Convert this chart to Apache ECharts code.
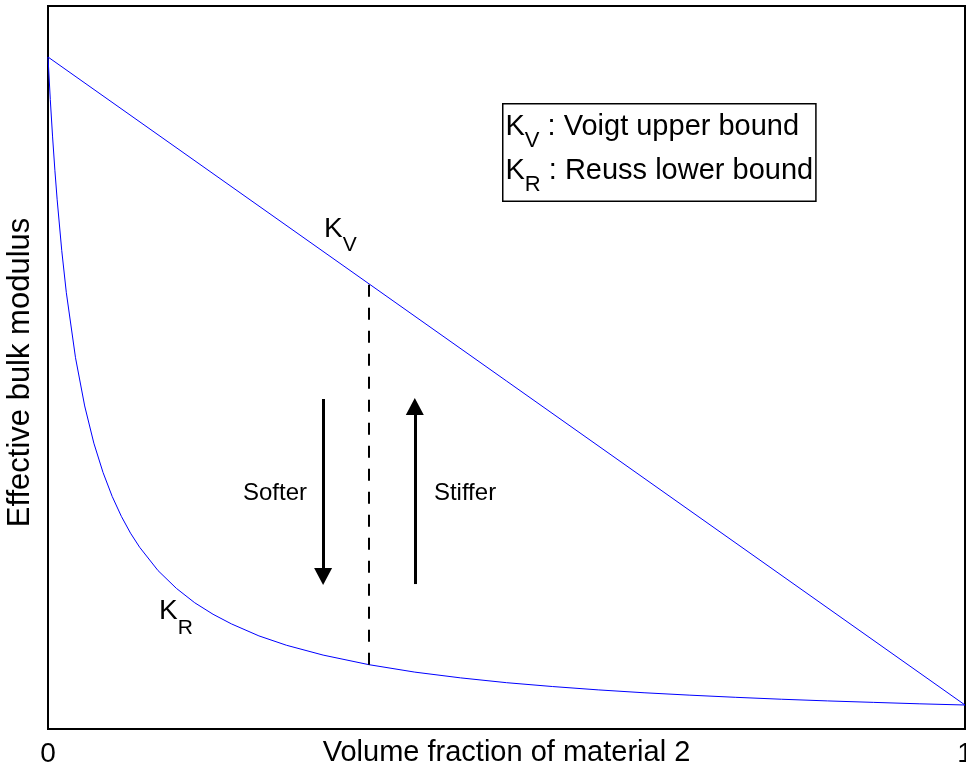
<!DOCTYPE html>
<html><head><meta charset="utf-8">
<script src="https://cdn.jsdelivr.net/npm/echarts@6/dist/echarts.min.js"></script>
<style>html,body{margin:0;padding:0;background:#fff}#c{width:966px;height:764px}</style>
</head><body><div id="c"></div>
<script>
// Volume fraction of material 2 (x) and effective bulk modulus (y, arbitrary units)
const fracReuss = [0, 0.0025, 0.005, 0.0075, 0.01, 0.015, 0.02, 0.03, 0.04, 0.05, 0.06, 0.07, 0.08, 0.09, 0.10, 0.12, 0.14, 0.16, 0.18, 0.20, 0.23, 0.26, 0.30, 0.35, 0.40, 0.45, 0.50, 0.55, 0.60, 0.65, 0.70, 0.75, 0.80, 0.85, 0.90, 0.95, 1.0];
const kReuss = [28, 26.23, 24.67, 23.28, 22.05, 19.93, 18.18, 15.47, 13.46, 11.91, 10.69, 9.69, 8.86, 8.16, 7.57, 6.60, 5.86, 5.26, 4.78, 4.38, 3.88, 3.49, 3.08, 2.68, 2.37, 2.13, 1.93, 1.77, 1.63, 1.51, 1.41, 1.32, 1.24, 1.17, 1.11, 1.05, 1.00];
const fracVoigt = [0, 1];
const kVoigt = [28, 1];
const xTickLabels = ['0', '1'];
// guide line and arrows (x, y-start, y-end)
const dashed = [0.35, 2.68, 18.55];
const softerArrow = [0.30, 13.75, 6.35];
const stifferArrow = [0.40, 6.04, 13.44];

const FONT = 'Liberation Sans, Arial, Helvetica, sans-serif';
const chart = echarts.init(document.getElementById('c'), null, {renderer: 'canvas'});

const subRich = (mainSize, subSize, subPad) => ({
  k: {fontSize: mainSize, fontFamily: FONT, color: '#000', verticalAlign: 'top', lineHeight: 44},
  s: {fontSize: subSize, fontFamily: FONT, color: '#000', verticalAlign: 'top', lineHeight: 16, padding: [subPad, 0, 0, 0]},
  t: {fontSize: mainSize, fontFamily: FONT, color: '#000', verticalAlign: 'top', lineHeight: 44}
});

const option = {
  animation: false,
  backgroundColor: '#fff',
  grid: {left: 48, right: 1, top: 6, bottom: 35, show: true, borderColor: '#000', borderWidth: 2,
    backgroundColor: 'transparent', containLabel: false, outerBoundsMode: 'none'},
  xAxis: {
    type: 'value', min: 0, max: 1, interval: 1,
    axisLine: {show: false}, axisTick: {show: false}, splitLine: {show: false},
    axisLabel: {fontSize: 28, fontFamily: FONT, color: '#000', margin: 11,
      formatter: v => xTickLabels[Math.round(v)]},
    name: 'Volume fraction of material 2', nameLocation: 'middle', nameGap: 9, nameMoveOverlap: false,
    nameTextStyle: {fontSize: 29, fontFamily: FONT, color: '#000', verticalAlign: 'top'}
  },
  yAxis: {
    type: 'value', min: 0, max: 30.125,
    axisLine: {show: false}, axisTick: {show: false}, splitLine: {show: false}, axisLabel: {show: false},
    name: 'Effective bulk modulus', nameLocation: 'middle', nameGap: 12, nameMoveOverlap: false,
    nameTextStyle: {fontSize: 31, fontFamily: FONT, color: '#000', padding: [0, 10, 0, 0]}
  },
  series: [
    {type: 'line', name: 'Voigt', data: fracVoigt.map((f, i) => [f, kVoigt[i]]), showSymbol: false, symbol: 'none',
      lineStyle: {color: '#0000ff', width: 1}, silent: true},
    {type: 'line', name: 'Reuss', data: fracReuss.map((f, i) => [f, kReuss[i]]), showSymbol: false, symbol: 'none',
      lineStyle: {color: '#0000ff', width: 1}, silent: true,
      markLine: {
        silent: true, animation: false, label: {show: false},
        data: [
          [{coord: [dashed[0], dashed[1]], symbol: 'none'}, {coord: [dashed[0], dashed[2]], symbol: 'none',
            lineStyle: {color: '#000', width: 2, type: [12, 11]}}],
          [{coord: [softerArrow[0], softerArrow[1]], symbol: 'none'}, {coord: [softerArrow[0], softerArrow[2]], symbol: 'triangle', symbolSize: [18, 17],
            lineStyle: {color: '#000', width: 3, type: 'solid'}, itemStyle: {color: '#000'}}],
          [{coord: [stifferArrow[0], stifferArrow[1]], symbol: 'none'}, {coord: [stifferArrow[0], stifferArrow[2]], symbol: 'triangle', symbolSize: [18, 17],
            lineStyle: {color: '#000', width: 3, type: 'solid'}, itemStyle: {color: '#000'}}]
        ]
      }
    }
  ],
  graphic: [
    {type: 'text', left: 502, top: 103, z: 100,
      style: {text: '{k|K}{s|V}{t| : Voigt upper bound}\n{k|K}{s|R}{t| : Reuss lower bound}',
        rich: subRich(29, 22, 17), backgroundColor: '#fff', borderColor: '#000', borderWidth: 1.5,
        padding: [8, 2, 0, 2]}},
    {type: 'text', x: 324, y: 215, z: 100,
      style: {text: '{k|K}{s|V}', rich: subRich(28, 21, 20)}},
    {type: 'text', x: 159, y: 597, z: 100,
      style: {text: '{k|K}{s|R}', rich: subRich(28, 21, 21)}},
    {type: 'text', x: 275, y: 493, z: 100,
      style: {text: 'Softer', fontSize: 24, fontFamily: FONT, fill: '#000', align: 'center', verticalAlign: 'middle'}},
    {type: 'text', x: 465, y: 493, z: 100,
      style: {text: 'Stiffer', fontSize: 24, fontFamily: FONT, fill: '#000', align: 'center', verticalAlign: 'middle'}}
  ]
};
chart.setOption(option);
</script>
</body></html>
